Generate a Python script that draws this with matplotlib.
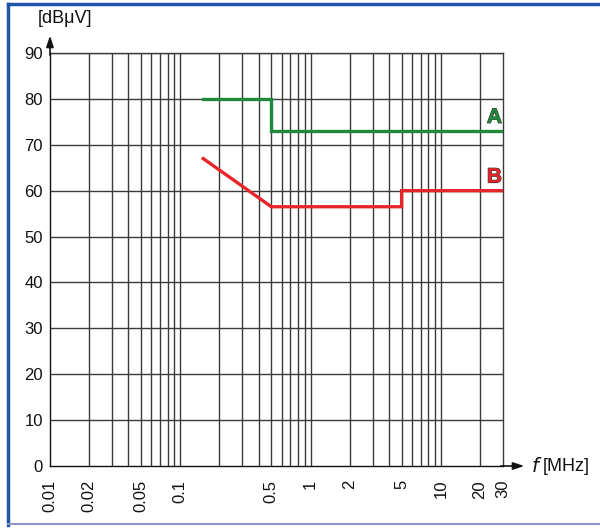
import numpy as np
import matplotlib
matplotlib.use("Agg")
import matplotlib.pyplot as plt
import matplotlib.patheffects as pe
from matplotlib.lines import Line2D

plt.rcParams["font.family"] = ["Liberation Sans", "DejaVu Sans"]

# limit lines (frequency in MHz, level in dBuV)
freq_a = [0.15, 0.5, 0.5, 30]
level_a = [80, 80, 73, 73]
freq_b = [0.15, 0.5, 5, 5, 30]
level_b = [67, 56.5, 56.5, 60, 60]

xticks = [0.01, 0.02, 0.05, 0.1, 0.5, 1, 2, 5, 10, 20, 30]
xticklabels = ["0.01", "0.02", "0.05", "0.1", "0.5", "1", "2", "5", "10", "20", "30"]
yticks = [0, 10, 20, 30, 40, 50, 60, 70, 80, 90]

GREEN = "#1f8a3c"
RED = "#e8262a"
GRID = "#3a3a3a"

fig = plt.figure(figsize=(6.0, 5.28), dpi=100)
ax = fig.add_axes([0.0833, 0.1174, 0.755, 0.7822])

# log grid: every 1..9 x decade
grid_x = [m * 10.0 ** e for e in range(-2, 2) for m in range(1, 10)]
grid_x = [g for g in grid_x if 0.01 < g < 30]
for g in grid_x:
    ax.axvline(g, color=GRID, lw=1.0, zorder=1)
for y in yticks[1:]:
    ax.axhline(y, color=GRID, lw=1.0, zorder=1)

ax.plot(freq_a, level_a, color=GREEN, lw=2.4, solid_joinstyle="miter", zorder=3)
ax.plot(freq_b, level_b, color=RED, lw=2.4, solid_joinstyle="miter", zorder=3)

stroke = [pe.withStroke(linewidth=0.8, foreground="#333333")]
ax.text(29.5, 73.9, "A", color=GREEN, fontsize=15, fontweight="bold",
        ha="right", va="bottom", path_effects=stroke, zorder=4)
ax.text(29.5, 60.9, "B", color=RED, fontsize=15, fontweight="bold",
        ha="right", va="bottom", path_effects=stroke, zorder=4)

ax.set_xscale("log")
ax.set_xlim(0.01, 30)
ax.set_ylim(0, 90)
ax.set_xticks(xticks)
ax.set_xticklabels(xticklabels, rotation=90)
ax.xaxis.set_minor_locator(matplotlib.ticker.NullLocator())
ax.set_yticks(yticks)
ax.tick_params(axis="both", length=0, labelsize=12, colors="#111111")
ax.tick_params(axis="x", pad=10)
ax.tick_params(axis="y", pad=5)

for s in ax.spines.values():
    s.set_color(GRID)
    s.set_linewidth(1.0)
ax.spines["left"].set_color("#111111")
ax.spines["bottom"].set_color("#111111")

# axis arrows
ax.annotate("", xy=(0, 1.042), xytext=(0, 0.995), xycoords="axes fraction",
            arrowprops=dict(arrowstyle="-|>,head_length=0.6,head_width=0.2",
                            color="#111111", lw=1.2,
                            mutation_scale=11, shrinkA=0, shrinkB=0),
            annotation_clip=False)
ax.annotate("", xy=(1.047, 0), xytext=(0.995, 0), xycoords="axes fraction",
            arrowprops=dict(arrowstyle="-|>,head_length=0.6,head_width=0.2",
                            color="#111111", lw=1.2,
                            mutation_scale=11, shrinkA=0, shrinkB=0),
            annotation_clip=False)

fig.text(0.108, 0.965, "[dB\u03bcV]", fontsize=13, ha="center", va="center", color="#111111")
fig.text(0.885, 0.117, "$f$", fontsize=14, ha="left", va="center", color="#111111",
         family="DejaVu Serif")
fig.text(0.905, 0.117, "[MHz]", fontsize=13, ha="left", va="center", color="#111111")

# blue frame
fig.add_artist(Line2D([0.013, 0.013], [0.006, 0.993], transform=fig.transFigure,
                      color="#2255a8", lw=2.5))
fig.add_artist(Line2D([0.013, 1.0], [0.993, 0.993], transform=fig.transFigure,
                      color="#2255a8", lw=2.5))
fig.add_artist(Line2D([0.013, 1.0], [0.008, 0.008], transform=fig.transFigure,
                      color="#8f93c8", lw=1.5))

fig.savefig("out.png", dpi=100, facecolor="white")
